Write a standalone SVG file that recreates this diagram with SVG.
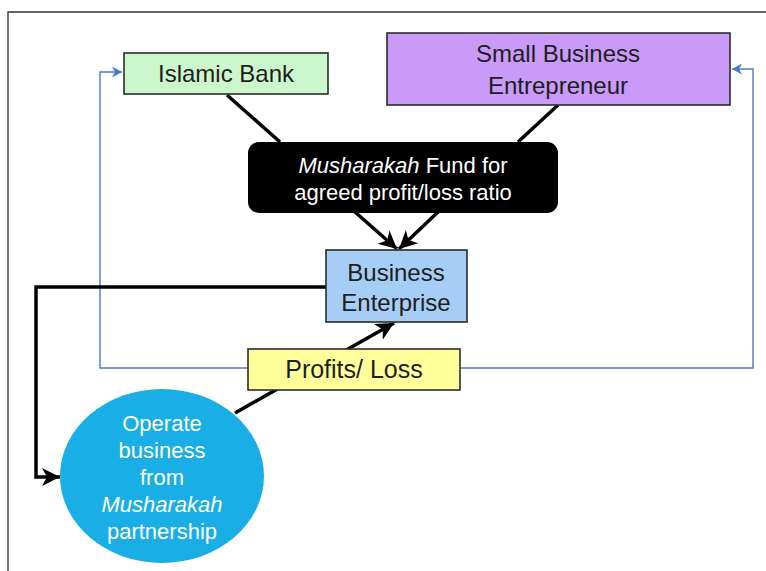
<svg xmlns="http://www.w3.org/2000/svg" width="766" height="571" viewBox="0 0 766 571">
<defs>
<style>
text{font-family:"Liberation Sans",Arial,sans-serif;text-anchor:middle}
.box{stroke:#2b2b2b;stroke-width:1.6}
.dk{fill:#1e1e1e;font-size:24px}
.wt{fill:#ffffff;font-size:22px}
.blk{fill:none;stroke:#000;stroke-width:3.5;stroke-linejoin:miter}
.blu{fill:none;stroke:#4a78c8;stroke-width:1.4}
.it{font-style:italic}
</style>
<marker id="ab" markerUnits="userSpaceOnUse" markerWidth="20" markerHeight="20" viewBox="0 0 20 20" refX="18" refY="10" orient="auto">
<path d="M0,1 L18,10 L0,19 L5,10 Z" fill="#000"/>
</marker>
<marker id="au" markerUnits="userSpaceOnUse" markerWidth="14" markerHeight="14" viewBox="0 0 14 14" refX="12" refY="7" orient="auto">
<path d="M2,1.5 L12,7 L2,12.5 L5,7 Z" fill="#4a78c8"/>
</marker>
</defs>
<rect width="766" height="571" fill="#fff"/>
<path d="M8,571 L8,12 L766,12" fill="none" stroke="#333" stroke-width="1.3"/>
<g id="connectors">
<path class="blu" d="M248,368 L100,368 L100,72 L122,72" marker-end="url(#au)"/>
<path class="blu" d="M460,368 L753,368 L753,69 L732,69" marker-end="url(#au)"/>
<path class="blk" d="M227,95 L280,142"/>
<path class="blk" d="M558,105 L518,142"/>
<path class="blk" d="M355,212 L397,249" marker-end="url(#ab)"/>
<path class="blk" d="M438,212 L399,249" marker-end="url(#ab)"/>
<path class="blk" d="M326,287 L36,287 L36,477 L60,477" marker-end="url(#ab)"/>
<path class="blk" d="M235,413 L394,323" marker-end="url(#ab)"/>
</g>
<g id="islamic-bank">
<rect class="box" x="124" y="53" width="204" height="41" fill="#ccf7cc"/>
<text class="dk" x="226" y="82">Islamic Bank</text>
</g>
<g id="entrepreneur">
<rect class="box" x="387" y="33" width="343" height="72" fill="#c99af7"/>
<text class="dk" x="558" y="62">Small Business</text>
<text class="dk" x="558" y="94">Entrepreneur</text>
</g>
<g id="fund">
<rect x="248" y="142" width="310" height="71" rx="11" fill="#000"/>
<text class="wt" x="403" y="173"><tspan class="it">Musharakah</tspan> Fund for</text>
<text class="wt" x="403" y="200">agreed profit/loss ratio</text>
</g>
<g id="business-enterprise">
<rect class="box" x="326" y="250" width="141" height="72" fill="#a6cdf5"/>
<text class="dk" x="396" y="281">Business</text>
<text class="dk" x="396" y="311">Enterprise</text>
</g>
<g id="profits-loss">
<rect class="box" x="248" y="349" width="212" height="41" fill="#ffff99"/>
<text class="dk" x="354" y="378" style="font-size:25px">Profits/ Loss</text>
</g>
<g id="operate">
<ellipse cx="162" cy="476" rx="102" ry="87" fill="#1aaee6"/>
<text class="wt" x="162" y="431">Operate</text>
<text class="wt" x="162" y="458">business</text>
<text class="wt" x="162" y="485">from</text>
<text class="wt it" x="162" y="512">Musharakah</text>
<text class="wt" x="162" y="539">partnership</text>
</g>
</svg>
